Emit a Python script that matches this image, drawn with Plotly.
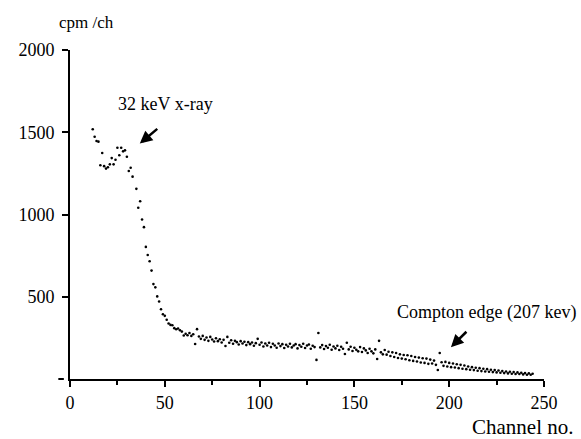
import plotly.graph_objects as go

channels = list(range(12, 34)) + list(range(35, 245))
counts = [
    # 12-33
    1518, 1473, 1447, 1443, 1299, 1374, 1294, 1279, 1287, 1305, 1343,
    1305, 1333, 1406, 1360, 1406, 1384, 1390, 1351, 1264, 1284, 1230,
    # 35-59
    1156, 1041, 1081, 970, 923, 803, 754, 716, 659, 577, 557, 502, 471,
    424, 394, 384, 360, 337, 329, 327, 309, 302, 307, 296, 288,
    # 60-99
    264, 275, 266, 280, 262, 272, 213, 303, 258, 244, 262, 238, 252, 232,
    256, 240, 228, 248, 230, 242, 222, 238, 201, 256, 220, 236, 214, 232,
    224, 210, 230, 216, 226, 206, 224, 212, 222, 202, 218, 244,
    # 100-139
    208, 222, 198, 216, 204, 220, 194, 214, 204, 190, 216, 200, 212, 188,
    208, 198, 214, 192, 204, 212, 186, 206, 196, 214, 188, 204, 210, 184,
    202, 194, 116, 280, 192, 206, 182, 200, 190, 208, 178, 198,
    # 140-179
    186, 202, 176, 196, 184, 152, 220, 180, 196, 170, 190, 178, 168, 194,
    164, 186, 174, 158, 184, 168, 156, 180, 122, 232, 162, 150, 176, 148,
    166, 140, 162, 134, 158, 128, 150, 124, 146, 120, 144, 114,
    # 180-219
    140, 110, 134, 106, 130, 100, 126, 98, 124, 92, 118, 94, 112, 86,
    55, 158, 102, 80, 104, 76, 98, 72, 94, 70, 90, 66, 86, 62, 82, 60, 76,
    56, 72, 54, 68, 50, 66, 48, 62, 46,
    # 220-244
    60, 44, 56, 42, 54, 40, 52, 38, 48, 36, 46, 34, 44, 32, 42, 30, 40, 30,
    38, 28, 36, 26, 34, 26, 32,
]

x_ticks = [0, 50, 100, 150, 200, 250]
y_ticks = [500, 1000, 1500, 2000]

FONT = "Liberation Serif"

fig = go.Figure()
fig.add_trace(go.Scatter(
    x=channels, y=counts, mode="markers",
    marker=dict(color="black", size=2.6),
    hoverinfo="skip", showlegend=False,
))

fig.update_layout(
    width=581, height=439,
    margin=dict(l=70, r=37, t=50, b=60),
    paper_bgcolor="white", plot_bgcolor="white",
    font=dict(family=FONT, size=18, color="black"),
    xaxis=dict(
        range=[0, 250], tickvals=x_ticks, ticks="outside", ticklen=6,
        tickwidth=1.5, tickcolor="black", showline=True, linecolor="black",
        linewidth=2, showgrid=False, zeroline=False,
        minor=dict(dtick=25, tick0=0, ticks="outside", ticklen=4,
                   tickwidth=1.5, tickcolor="black"),
        tickfont=dict(family=FONT, size=18),
    ),
    yaxis=dict(
        range=[0, 2000], tickvals=y_ticks, ticks="outside", ticklen=6,
        tickwidth=1.5, tickcolor="black", showline=True, linecolor="black",
        linewidth=2, showgrid=False, zeroline=False,
        tickfont=dict(family=FONT, size=18), ticklabelstandoff=4,
    ),
)

fig.add_annotation(x=-0.013, y=0, xref="paper", yref="y", text="",
                   showarrow=True, ax=-7, ay=0, arrowhead=0, arrowwidth=2,
                   arrowcolor="black")

fig.add_annotation(x=-0.028, y=1.085, xref="paper", yref="paper",
                   text="cpm /ch", showarrow=False, xanchor="left",
                   yanchor="middle", font=dict(family=FONT, size=17))
fig.add_annotation(x=0.954, y=-0.146, xref="paper", yref="paper",
                   text="Channel no.", showarrow=False, xanchor="center",
                   yanchor="middle", font=dict(family=FONT, size=21))

fig.add_annotation(x=50.5, y=1671, text="32 keV x-ray", showarrow=False,
                   xanchor="center", yanchor="middle",
                   font=dict(family=FONT, size=18))
fig.add_annotation(x=36.8, y=1431, text="", showarrow=True, ax=19, ay=-16,
                   arrowhead=2, arrowsize=1, arrowwidth=2.5,
                   arrowcolor="black")

fig.add_annotation(x=219.5, y=402, text="Compton edge (207 kev)",
                   showarrow=False, xanchor="center", yanchor="middle",
                   font=dict(family=FONT, size=18))
fig.add_annotation(x=200.9, y=193, text="", showarrow=True, ax=17, ay=-17,
                   arrowhead=2, arrowsize=1, arrowwidth=2.5,
                   arrowcolor="black")

fig.write_html("out.html")
